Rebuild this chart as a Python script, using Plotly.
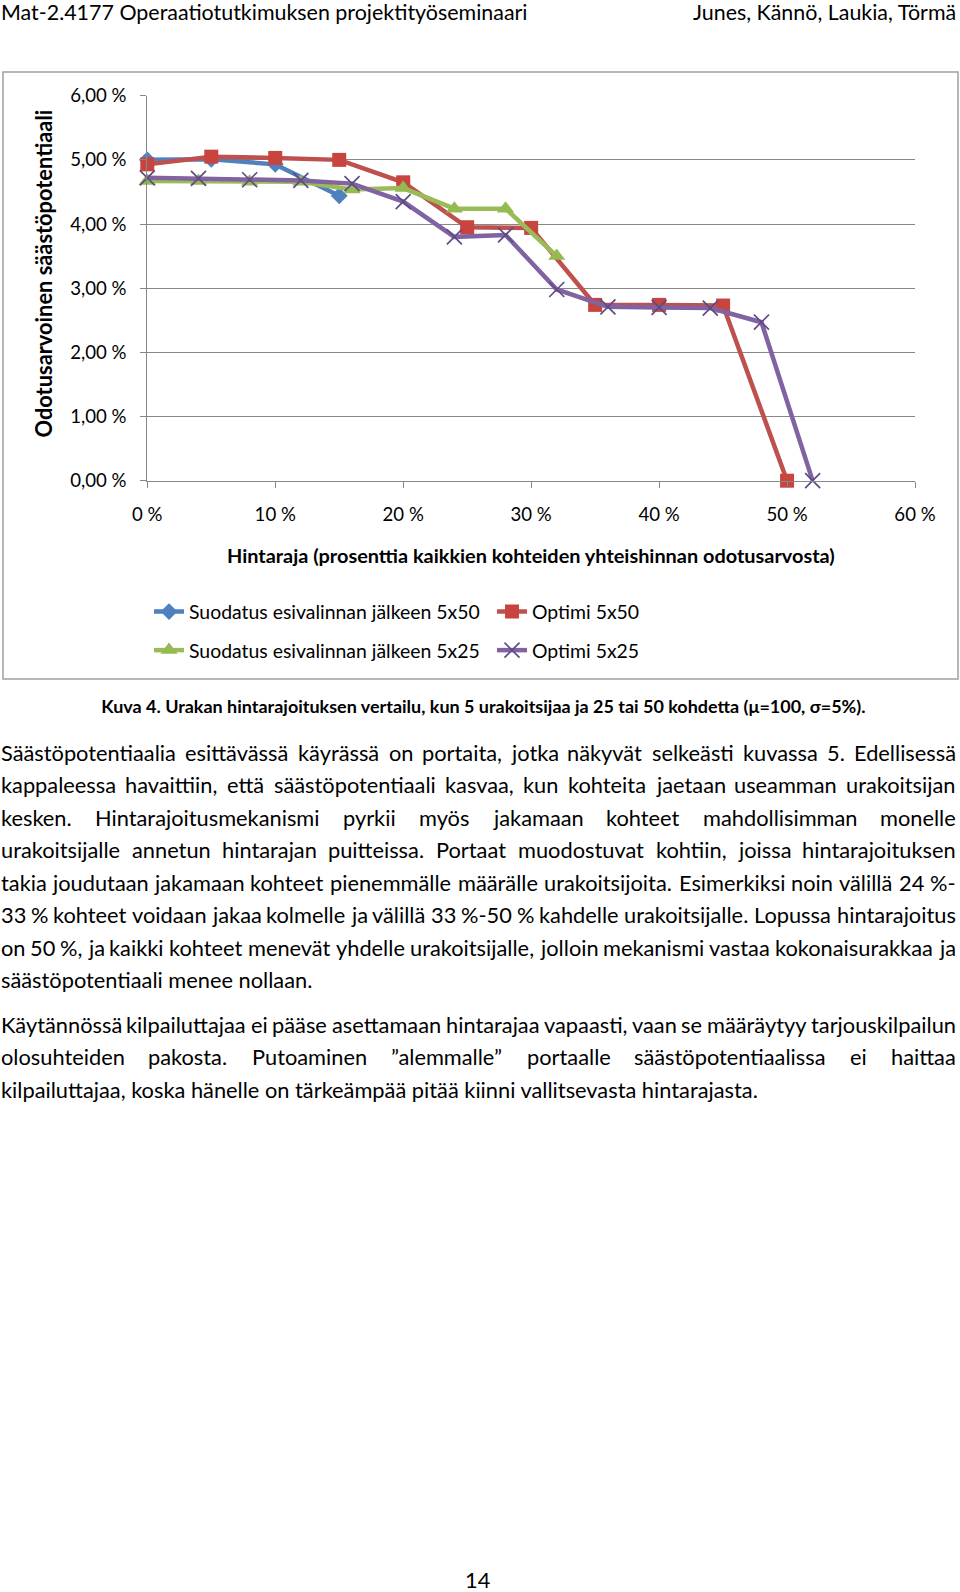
import glob
import os
import struct
import plotly.graph_objects as go

# ---------------- data ----------------
x_suod_5x50 = [0, 5, 10, 15]
suod_5x50 = [5.00, 5.01, 4.93, 4.44]

x_opt_5x50 = [0, 5, 10, 15, 20, 25, 30, 35, 40, 45, 50]
opt_5x50 = [4.93, 5.05, 5.03, 5.00, 4.65, 3.95, 3.94, 2.74, 2.74, 2.73, 0.00]

x_suod_5x25 = [0, 4, 8, 12, 16, 20, 24, 28, 32]
suod_5x25 = [4.67, 4.67, 4.66, 4.66, 4.54, 4.56, 4.24, 4.24, 3.50]

x_opt_5x25 = [0, 4, 8, 12, 16, 20, 24, 28, 32, 36, 40, 44, 48, 52]
opt_5x25 = [4.72, 4.71, 4.69, 4.68, 4.63, 4.35, 3.80, 3.83, 2.98, 2.71, 2.70, 2.69, 2.47, 0.00]

x_tickvals = [0, 10, 20, 30, 40, 50, 60]
x_ticktext = ["0 %", "10 %", "20 %", "30 %", "40 %", "50 %", "60 %"]
y_tickvals = [0, 1, 2, 3, 4, 5, 6]
y_ticktext = ["0,00 %", "1,00 %", "2,00 %", "3,00 %", "4,00 %", "5,00 %", "6,00 %"]

series_names = ["Suodatus esivalinnan jälkeen 5x50", "Optimi 5x50",
                "Suodatus esivalinnan jälkeen 5x25", "Optimi 5x25"]

header_left = "Mat-2.4177 Operaatiotutkimuksen projektityöseminaari"
header_right = "Junes, Kännö, Laukia, Törmä"
y_title = "Odotusarvoinen säästöpotentiaali"
x_title = "Hintaraja (prosenttia kaikkien kohteiden yhteishinnan odotusarvosta)"
caption = "Kuva 4. Urakan hintarajoituksen vertailu, kun 5 urakoitsijaa ja 25 tai 50 kohdetta (μ=100, σ=5%)."
para1 = [
    "Säästöpotentiaalia esittävässä käyrässä on portaita, jotka näkyvät selkeästi kuvassa 5. Edellisessä",
    "kappaleessa havaittiin, että säästöpotentiaali kasvaa, kun kohteita jaetaan useamman urakoitsijan",
    "kesken. Hintarajoitusmekanismi pyrkii myös jakamaan kohteet mahdollisimman monelle",
    "urakoitsijalle annetun hintarajan puitteissa. Portaat muodostuvat kohtiin, joissa hintarajoituksen",
    "takia joudutaan jakamaan kohteet pienemmälle määrälle urakoitsijoita. Esimerkiksi noin välillä 24 %-",
    "33 % kohteet voidaan jakaa kolmelle ja välillä 33 %-50 % kahdelle urakoitsijalle. Lopussa hintarajoitus",
    "on 50 %, ja kaikki kohteet menevät yhdelle urakoitsijalle, jolloin mekanismi vastaa kokonaisurakkaa ja",
    "säästöpotentiaali menee nollaan.",
]
para2 = [
    "Käytännössä kilpailuttajaa ei pääse asettamaan hintarajaa vapaasti, vaan se määräytyy tarjouskilpailun",
    "olosuhteiden pakosta. Putoaminen ”alemmalle” portaalle säästöpotentiaalissa ei haittaa",
    "kilpailuttajaa, koska hänelle on tärkeämpää pitää kiinni vallitsevasta hintarajasta.",
]
page_number = "14"


# ---------------- font metrics (for sizing / justification) ----------------
class Metrics:
    def __init__(self, path):
        data = open(path, "rb").read()
        off0 = struct.unpack(">I", data[12:16])[0] if data[:4] == b"ttcf" else 0
        u16 = lambda o: struct.unpack(">H", data[o:o + 2])[0]
        num = u16(off0 + 4)
        t = {}
        for i in range(num):
            rec = off0 + 12 + 16 * i
            tag = data[rec:rec + 4].decode("latin1")
            t[tag] = struct.unpack(">I", data[rec + 8:rec + 12])[0]
        self.upem = u16(t["head"] + 18)
        nh = u16(t["hhea"] + 34)
        hm = t["hmtx"]
        self.adv = [u16(hm + 4 * i) for i in range(nh)]
        cm = t["cmap"]
        n = u16(cm + 2)
        sub = None
        for i in range(n):
            pid, eid = u16(cm + 4 + 8 * i), u16(cm + 6 + 8 * i)
            off = struct.unpack(">I", data[cm + 8 + 8 * i:cm + 12 + 8 * i])[0]
            if u16(cm + off) == 4 and (pid == 0 or (pid == 3 and eid == 1)):
                sub = cm + off
                if pid == 3:
                    break
        self.map = {}
        segx2 = u16(sub + 6)
        ends = sub + 14
        starts = ends + segx2 + 2
        deltas = starts + segx2
        ranges = deltas + segx2
        for i in range(segx2 // 2):
            e, s = u16(ends + 2 * i), u16(starts + 2 * i)
            dl, ro = u16(deltas + 2 * i), u16(ranges + 2 * i)
            if s == 0xFFFF:
                continue
            for c in range(s, min(e, 0x2FFF) + 1):
                if ro == 0:
                    g = (c + dl) & 0xFFFF
                else:
                    g = u16(ranges + 2 * i + ro + 2 * (c - s))
                    if g:
                        g = (g + dl) & 0xFFFF
                self.map[c] = g

    def width(self, s, size):
        tot = 0
        for ch in s:
            g = self.map.get(ord(ch), 0)
            tot += self.adv[min(g, len(self.adv) - 1)]
        return tot * size / self.upem


class Approx:
    def __init__(self, k):
        self.k = k

    def width(self, s, size):
        return len(s) * self.k * size


def find_font(name):
    for d in ["/usr/share/fonts", "/usr/local/share/fonts",
              os.path.expanduser("~/.fonts"), os.path.expanduser("~/.local/share/fonts")]:
        hits = glob.glob(os.path.join(d, "**", name), recursive=True)
        if hits:
            return hits[0]
    return None


def load(name, k):
    p = find_font(name)
    if p:
        try:
            return Metrics(p)
        except Exception:
            pass
    return Approx(k)


REG = load("Lato-Regular.ttf", 0.50)
BOLD = load("Lato-Bold.ttf", 0.52)
FAMILY = "Lato"


def fit(metrics, s, target):
    return target / metrics.width(s, 1.0)


body_size = fit(REG, para2[-1], 761)
header_size = fit(REG, header_left, 528)
caption_size = fit(BOLD, caption, 769)
tick_size = fit(REG, y_ticktext[-1], 56.3)
ytitle_size = fit(BOLD, y_title, 329)
xtitle_size = fit(BOLD, x_title, 612)
legend_size = fit(REG, series_names[0], 292)

# ---------------- layout helpers ----------------
W, H = 960, 1592
GRID = "#878787"


def px(x):
    return x / W


def py(y):
    return 1 - y / H


annotations = []


def text(x, y, s, size, bold=False, xanchor="left", angle=0):
    annotations.append(dict(
        x=px(x), y=py(y), xref="paper", yref="paper",
        text="<b>%s</b>" % s if bold else s, showarrow=False,
        xanchor=xanchor, yanchor="middle", textangle=angle,
        borderpad=0, borderwidth=0,
        font=dict(family=FAMILY, size=size, color="black"),
    ))


def justify(line, y, size, L=0.5, R=956):
    words = line.split(" ")
    ws = [REG.width(w, size) for w in words]
    gap = (R - L - sum(ws)) / (len(words) - 1)
    x = L
    for i, (w, ww) in enumerate(zip(words, ws)):
        if i == len(words) - 1:
            text(R, y, w, size, xanchor="right")
        else:
            text(x, y, w, size)
        x += ww + gap


# header & footer
text(0.5, 12.5, header_left, header_size)
text(956, 12.5, header_right, header_size, xanchor="right")
text(478, 1579, page_number, body_size, xanchor="center")

# chart texts
text(42.6, 274, y_title, ytitle_size, bold=True, xanchor="center", angle=-90)
text(531, 555, x_title, xtitle_size, bold=True, xanchor="center")
text(483, 706.3, caption, caption_size, bold=True, xanchor="center")

# body
LINE = 32.47
for i, line in enumerate(para1):
    y = 752.5 + i * LINE
    if i == len(para1) - 1:
        text(0.5, y, line, body_size)
    else:
        justify(line, y, body_size)
for i, line in enumerate(para2):
    y = 1024.4 + i * LINE
    if i == len(para2) - 1:
        text(0.5, y, line, body_size)
    else:
        justify(line, y, body_size)

# ---------------- figure ----------------
fig = go.Figure()
fig.add_trace(go.Scatter(
    x=x_suod_5x50, y=suod_5x50, name=series_names[0], mode="lines+markers",
    line=dict(color="#4F81BD", width=4.5), cliponaxis=False,
    marker=dict(symbol="diamond", size=13, color="#4F81BD"), legend="legend"))
fig.add_trace(go.Scatter(
    x=x_opt_5x50, y=opt_5x50, name=series_names[1], mode="lines+markers",
    line=dict(color="#C0504D", width=4.5), cliponaxis=False,
    marker=dict(symbol="square", size=14, color="#C8443F"), legend="legend"))
fig.add_trace(go.Scatter(
    x=x_suod_5x25, y=suod_5x25, name=series_names[2], mode="lines+markers",
    line=dict(color="#9BBB59", width=4.5), cliponaxis=False,
    marker=dict(symbol="triangle-up", size=15, color="#94BB50"), legend="legend2"))
fig.add_trace(go.Scatter(
    x=x_opt_5x25, y=opt_5x25, name=series_names[3], mode="lines+markers",
    line=dict(color="#8064A2", width=4.5), cliponaxis=False,
    marker=dict(symbol="x-thin", size=15, color="#5E4B85",
                line=dict(width=1.7, color="#5E4B85")), legend="legend2"))

legend_common = dict(
    orientation="h", xanchor="left", yanchor="middle",
    entrywidth=298, entrywidthmode="pixels",
    font=dict(family=FAMILY, size=legend_size, color="black"),
    bgcolor="rgba(0,0,0,0)", borderwidth=0, itemclick=False, itemdoubleclick=False,
)

fig.update_layout(
    width=W, height=H, margin=dict(l=0, r=0, t=0, b=0, pad=0, autoexpand=False),
    paper_bgcolor="white", plot_bgcolor="white",
    font=dict(family=FAMILY, color="black"),
    showlegend=True,
    xaxis=dict(
        domain=[px(147.3), px(915)], range=[0, 60],
        tickmode="array", tickvals=x_tickvals, ticktext=x_ticktext,
        ticks="outside", ticklen=6, tickwidth=1.3, tickcolor=GRID,
        showline=True, linecolor=GRID, linewidth=1.3,
        showgrid=False, zeroline=False, fixedrange=True,
        tickfont=dict(family=FAMILY, size=tick_size, color="black"),
        ticklabelstandoff=11,
    ),
    yaxis=dict(
        domain=[py(480.7), py(95.7)], range=[0, 6],
        tickmode="array", tickvals=y_tickvals, ticktext=y_ticktext,
        ticks="outside", ticklen=6, tickwidth=1.3, tickcolor=GRID,
        showline=True, linecolor=GRID, linewidth=1.3,
        showgrid=True, gridcolor=GRID, gridwidth=1.3,
        zeroline=False, fixedrange=True,
        tickfont=dict(family=FAMILY, size=tick_size, color="black"),
        ticklabelstandoff=10,
    ),
    legend=dict(x=px(149), y=py(612), **legend_common),
    legend2=dict(x=px(149), y=py(650.5), **legend_common),
    shapes=[dict(type="rect", xref="paper", yref="paper",
                 x0=px(3), x1=px(958), y0=py(72), y1=py(679),
                 line=dict(color="#A0A0A0", width=1.5), fillcolor="rgba(0,0,0,0)",
                 layer="below")],
    annotations=annotations,
)

fig.write_html("out.html", config={"displayModeBar": False})
